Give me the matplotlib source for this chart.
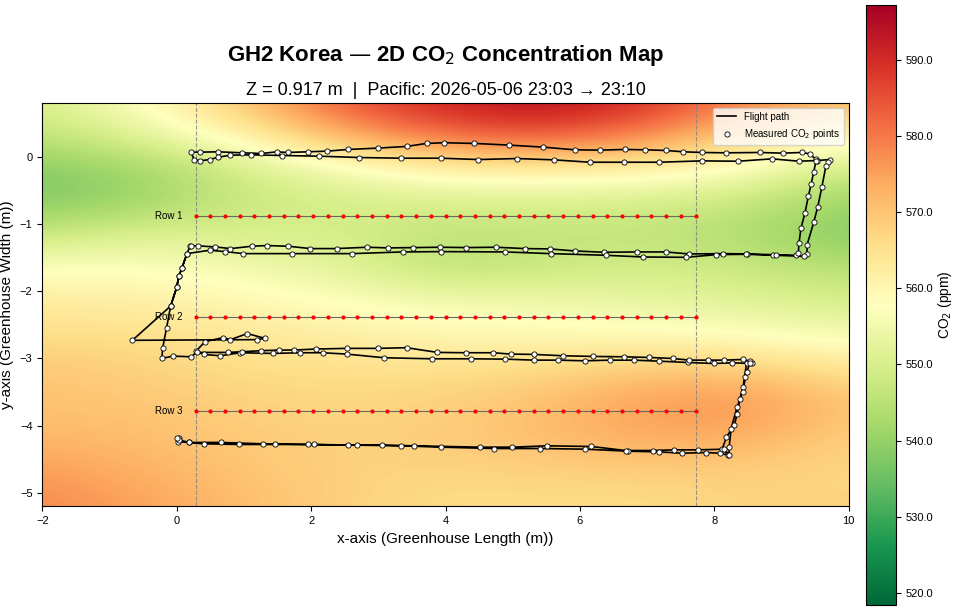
import numpy as np
import matplotlib
matplotlib.use("Agg")
import matplotlib.pyplot as plt

plt.rcParams['font.family'] = ['Liberation Sans', 'DejaVu Sans']

# CO2 field (ppm), rows top->bottom, cols left->right
grid_x = [-2.0, -0.5, 1.0, 2.5, 4.0, 5.5, 7.0, 8.5, 10.0]
grid_y = [0.8, 0.3, -0.2, -0.7, -1.2, -1.7, -2.2, -2.7, -3.2, -3.7, -4.2, -4.7, -5.2]
co2 = [
    [550, 558, 570, 585, 592, 595, 590, 578, 571],
    [546, 552, 561, 573, 582, 585, 578, 568, 560],
    [538, 541, 549, 556, 561, 562, 561, 557, 548],
    [538, 541, 548, 549, 550, 550, 549, 547, 540],
    [548, 552, 550, 550, 545, 546, 546, 543, 538],
    [558, 558, 556, 552, 546, 548, 550, 548, 545],
    [563, 562, 560, 558, 556, 555, 553, 552, 550],
    [566, 566, 564, 562, 560, 560, 560, 558, 556],
    [570, 568, 566, 566, 566, 567, 570, 570, 565],
    [570, 570, 568, 567, 568, 571, 576, 577, 570],
    [572, 571, 569, 568, 569, 571, 574, 573, 568],
    [576, 573, 570, 568, 567, 568, 568, 568, 567],
    [578, 575, 571, 568, 566, 566, 566, 568, 568],
]
vmin, vmax = 518.4, 597.2

# flight path / measured points (m)
path_x = [0.03, 0.015, 0.18, 0.40, 0.92, 1.47, 2.05, 2.68, 3.34, 3.94, 4.72, 5.40, 6.08, 6.72, 7.18, 7.52, 7.88, 8.08, 8.21,
          8.12, 8.18, 8.30, 8.34, 8.38, 8.43, 8.45, 8.48,
          8.56, 8.26, 7.99, 7.61, 7.17, 6.80, 6.45, 6.07, 5.67, 5.32, 4.89, 4.38, 3.80, 3.09, 2.53, 2.17, 1.84, 1.43, 0.94, 0.65, 0.40, 0.29,
          0.42, 0.69, 0.80, 1.05, 1.31, 1.20, -0.66, -0.09, 0.00, 0.03, 0.08, 0.15, 0.20,
          0.21, 0.32, 0.57, 0.80, 1.12, 1.34, 1.66, 1.99, 2.38, 2.83, 3.15, 3.52, 3.92, 4.31, 4.75, 5.18, 5.55, 5.92, 6.36, 6.85, 7.28, 7.62, 8.13, 8.49, 8.88, 9.22,
          9.25, 9.26, 9.29, 9.35, 9.40, 9.44, 9.48, 9.52,
          9.53, 9.42, 9.30, 9.02, 8.68, 8.17, 7.81, 7.54, 7.28, 6.97, 6.67, 6.30, 5.92, 5.45, 4.94, 4.43, 3.97, 3.72, 3.42, 2.99, 2.55, 2.24, 1.95, 1.65, 1.49, 1.26, 0.97, 0.62, 0.35, 0.21,
          0.26, 0.34, 0.49, 0.62, 0.80, 1.11, 1.57, 2.12, 2.72, 3.34, 3.94, 4.49, 5.06, 5.62, 6.15, 6.65, 7.18, 7.81, 8.35, 8.86, 9.26, 9.52, 9.72,
          9.69, 9.66, 9.60, 9.54, 9.48, 9.38, 9.38,
          9.34, 8.92, 8.47, 8.03, 7.58, 6.94, 6.39, 5.57, 4.88, 3.94, 3.36, 2.61, 1.72, 0.99, 0.72, 0.49, 0.15,
          0.08, 0.03, 0.00, -0.09, -0.15, -0.21, -0.22,
          -0.06, 0.21, 0.30, 0.76, 0.97, 1.25, 1.52, 1.75, 2.07, 2.53, 2.99, 3.42, 3.88, 4.30, 4.71, 4.97, 5.32, 5.75, 6.20, 6.65, 7.03, 7.38, 7.63, 7.90, 8.15, 8.43, 8.53,
          8.53, 8.48, 8.42, 8.34, 8.25, 8.22, 8.22,
          8.15, 7.76, 7.40, 7.09, 6.68, 6.17, 5.51, 4.99, 4.51, 3.53, 3.05, 2.55, 1.95, 1.28, 0.66, 0.18, 0.03, 0.01]
path_y = [-4.19, -4.24, -4.25, -4.27, -4.28, -4.28, -4.28, -4.29, -4.30, -4.32, -4.34, -4.34, -4.35, -4.38, -4.39, -4.41, -4.40, -4.41, -4.44,
          -4.34, -4.17, -3.985, -3.82, -3.60, -3.42, -3.27, -3.075,
          -3.075, -3.065, -3.075, -3.06, -3.04, -3.025, -3.025, -3.035, -3.025, -3.025, -3.01, -3.005, -3.005, -2.99, -2.935, -2.915, -2.915, -2.925, -2.915, -2.96, -2.94, -2.89,
          -2.75, -2.69, -2.72, -2.63, -2.70, -2.72, -2.73, -2.22, -1.94, -1.78, -1.65, -1.45, -1.32,
          -1.325, -1.325, -1.34, -1.365, -1.33, -1.32, -1.33, -1.365, -1.365, -1.345, -1.355, -1.35, -1.345, -1.35, -1.345, -1.365, -1.37, -1.40, -1.42, -1.415, -1.415, -1.445, -1.44, -1.445, -1.455, -1.465,
          -1.43, -1.28, -1.06, -0.83, -0.58, -0.41, -0.22, -0.03,
          -0.055, 0.045, 0.065, 0.055, 0.065, 0.06, 0.065, 0.075, 0.095, 0.105, 0.11, 0.10, 0.105, 0.145, 0.175, 0.20, 0.21, 0.20, 0.155, 0.13, 0.11, 0.085, 0.075, 0.065, 0.075, 0.05, 0.06, 0.075, 0.07, 0.07,
          -0.04, -0.06, -0.04, -0.005, 0.025, 0.03, 0.02, 0.01, -0.01, -0.02, -0.02, -0.04, -0.025, -0.045, -0.08, -0.08, -0.08, -0.06, -0.065, -0.03, -0.065, -0.055, -0.04,
          -0.07, -0.14, -0.45, -0.74, -0.97, -1.31, -1.45,
          -1.48, -1.465, -1.45, -1.455, -1.495, -1.49, -1.465, -1.44, -1.415, -1.41, -1.415, -1.44, -1.44, -1.44, -1.41, -1.39, -1.44,
          -1.65, -1.78, -1.94, -2.22, -2.54, -2.85, -3.00,
          -2.965, -2.975, -2.91, -2.91, -2.90, -2.885, -2.875, -2.875, -2.86, -2.85, -2.85, -2.84, -2.91, -2.915, -2.915, -2.935, -2.94, -2.96, -2.97, -2.975, -2.985, -3.0, -3.025, -3.025, -3.025, -3.015, -3.04,
          -3.075, -3.20, -3.50, -3.72, -4.045, -4.32, -4.44,
          -4.35, -4.36, -4.36, -4.37, -4.37, -4.31, -4.30, -4.32, -4.32, -4.30, -4.29, -4.29, -4.28, -4.27, -4.25, -4.25, -4.21, -4.18]

# planned sampling rows
row_names = ["Row 1", "Row 2", "Row 3"]
row_y = [-0.88, -2.38, -3.78]
row_x0, row_x1, row_n = 0.28, 7.72, 35

fig = plt.figure(figsize=(9.54, 6.10), dpi=100)
ax = fig.add_axes([0.044, 0.170, 0.846, 0.661])
cax = fig.add_axes([0.908, 0.008, 0.031, 0.984])

dx = grid_x[1] - grid_x[0]
dy = grid_y[0] - grid_y[1]
im = ax.imshow(np.array(co2), cmap='RdYlGn_r', vmin=vmin, vmax=vmax,
               extent=[grid_x[0] - dx / 2, grid_x[-1] + dx / 2, grid_y[-1] - dy / 2, grid_y[0] + dy / 2],
               origin='upper', interpolation='bicubic', aspect='equal')

for xv in [row_x0, row_x1]:
    ax.axvline(xv, color='gray', ls='--', lw=0.8, alpha=0.8)

for name, yv in zip(row_names, row_y):
    xs = np.linspace(row_x0, row_x1, row_n)
    ax.plot(xs, [yv] * row_n, color='dimgray', lw=0.8, marker='o', ms=3,
            mfc='red', mec='none', zorder=3)
    ax.text(row_x0 - 0.2, yv, name, ha='right', va='center', fontsize=7)

ax.plot(path_x, path_y, color='black', lw=1.2, label='Flight path', zorder=4)
ax.scatter(path_x, path_y, s=14, facecolor='white', edgecolor='black', lw=0.6,
           zorder=5, label='Measured CO$_2$ points')

ax.set_xlim(-2, 10)
ax.set_ylim(-5.2, 0.8)
ax.tick_params(labelsize=8)
ax.set_xlabel('x-axis (Greenhouse Length (m))', fontsize=11)
ax.set_ylabel('y-axis (Greenhouse Width (m))', fontsize=11)
ax.legend(loc='upper right', fontsize=7, framealpha=0.8)

ax.text(0.5, 1.088, 'GH2 Korea — 2D CO$_2$ Concentration Map', transform=ax.transAxes,
        ha='center', va='bottom', fontsize=16, fontweight='bold')
ax.set_title('Z = 0.917 m  |  Pacific: 2026-05-06 23:03 → 23:10', fontsize=13, pad=6)

cb = fig.colorbar(im, cax=cax, format='%.1f')
cb.set_ticks([520, 530, 540, 550, 560, 570, 580, 590])
cb.ax.tick_params(labelsize=8)
cb.set_label('CO$_2$ (ppm)', fontsize=10, labelpad=2)

fig.savefig('out.png', dpi=100)
